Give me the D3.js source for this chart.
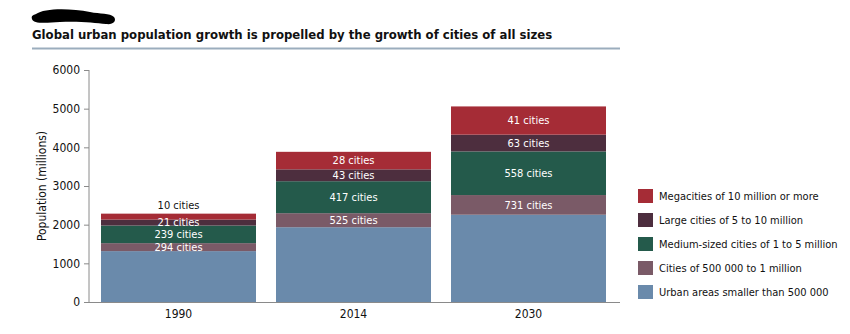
<!DOCTYPE html>
<html>
<head>
<meta charset="utf-8">
<script src="https://cdn.jsdelivr.net/npm/d3@7"></script>
<style>
	body { margin: 0; background: #fff; }
	svg text { font-family: "DejaVu Sans Condensed", "DejaVu Sans", sans-serif; }
</style>
</head>
<body>
<div id="chart"></div>
<script>
const years = ['1990', '2014', '2030'];

const sizeClasses = [
	'Urban areas smaller than 500 000',
	'Cities of 500 000 to 1 million',
	'Medium-sized cities of 1 to 5 million',
	'Large cities of 5 to 10 million',
	'Megacities of 10 million or more'
];

// population in millions, one value per year
const smallUrban = [1316, 1934, 2257];
const halfMillion = [206, 363, 509];
const mediumCities = [455, 827, 1128];
const largeCities = [155, 307, 434];
const megaCities = [153, 453, 730];

// number of cities, one value per year
const halfMillionCount = [294, 525, 731];
const mediumCount = [239, 417, 558];
const largeCount = [21, 43, 63];
const megaCount = [10, 28, 41];

const yTicks = [0, 1000, 2000, 3000, 4000, 5000, 6000];

const colors = ['#6a8aab', '#7a5a67', '#245a4b', '#4d2e3e', '#a52c36'];

const width = 850;
const height = 334;
const margin = {top: 70, right: 232, bottom: 32, left: 89};

const seriesValues = [smallUrban, halfMillion, mediumCities, largeCities, megaCities];
const seriesCounts = [null, halfMillionCount, mediumCount, largeCount, megaCount];

const rows = years.map((y, i) => {
	let row = {year: y};
	sizeClasses.forEach((c, k) => { row[c] = seriesValues[k][i]; });
	return row;
});

const stacked = d3.stack().keys(sizeClasses)(rows);

const svg = d3.select('#chart').append('svg')
	.attr('width', width)
	.attr('height', height);

// blacked-out header mark
svg.append('path')
	.attr('d', 'M36,14 C44,8 70,8 90,12 C100,14 110,13 114,17 C117,21 113,25 106,24 C95,23 80,21 60,22 C46,23 33,24 32,19 C31,16 33,15 36,14 Z')
	.attr('fill', '#000');

svg.append('text')
	.attr('x', 32)
	.attr('y', 39)
	.attr('font-size', 13)
	.attr('font-weight', 'bold')
	.attr('fill', '#111')
	.text('Global urban population growth is propelled by the growth of cities of all sizes');

svg.append('line')
	.attr('x1', 32).attr('x2', 620)
	.attr('y1', 48.5).attr('y2', 48.5)
	.attr('stroke', '#9badbd')
	.attr('stroke-width', 2);

const xScale = d3.scaleBand()
	.domain(years)
	.range([margin.left, 618])
	.paddingInner(20 / 175)
	.paddingOuter(0.0686);

const yScale = d3.scaleLinear()
	.domain([0, 6000])
	.range([height - margin.bottom, margin.top]);

const layers = svg.selectAll('g.layer')
	.data(stacked)
	.enter().append('g')
	.attr('class', 'layer')
	.attr('fill', (d, i) => colors[i]);

layers.selectAll('rect')
	.data(d => d)
	.enter().append('rect')
	.attr('x', d => xScale(d.data.year))
	.attr('width', xScale.bandwidth())
	.attr('y', d => yScale(d[1]))
	.attr('height', d => yScale(d[0]) - yScale(d[1]));

// city count labels, white inside the segment, dark above the bar when it's too thin
stacked.forEach((layer, k) => {
	if (!seriesCounts[k]) return;
	layer.forEach((d, i) => {
		const h = yScale(d[0]) - yScale(d[1]);
		const isTop = k === stacked.length - 1;
		const outside = isTop && h < 10;
		svg.append('text')
			.attr('x', xScale(d.data.year) + xScale.bandwidth() / 2)
			.attr('y', outside ? yScale(d[1]) - 8 : (yScale(d[0]) + yScale(d[1])) / 2)
			.attr('dy', '0.35em')
			.attr('text-anchor', 'middle')
			.attr('font-size', 11)
			.attr('fill', outside ? '#111' : '#fff')
			.text(seriesCounts[k][i] + ' cities');
	});
});

const yAxis = d3.axisLeft(yScale)
	.tickValues(yTicks)
	.tickFormat(d3.format('d'))
	.tickSize(5)
	.tickPadding(4);

const gy = svg.append('g')
	.attr('transform', `translate(${margin.left},0)`)
	.call(yAxis);
gy.select('.domain').attr('stroke', '#8a8a8a').attr('d', `M0,${yScale(6000)}V${yScale(0)}`);
gy.selectAll('.tick line').attr('stroke', '#8a8a8a');
gy.selectAll('.tick text').attr('font-size', 12).attr('fill', '#111')
	.style('font-family', '"DejaVu Sans Condensed", sans-serif');

svg.append('line')
	.attr('x1', margin.left - 5).attr('x2', 620)
	.attr('y1', yScale(0) + 0.5).attr('y2', yScale(0) + 0.5)
	.attr('stroke', '#8a8a8a');

const xAxis = d3.axisBottom(xScale).tickSize(0).tickPadding(7);
const gx = svg.append('g')
	.attr('transform', `translate(0,${yScale(0)})`)
	.call(xAxis);
gx.select('.domain').remove();
gx.selectAll('.tick text').attr('font-size', 12).attr('fill', '#111')
	.style('font-family', '"DejaVu Sans Condensed", sans-serif');

svg.append('text')
	.attr('transform', `translate(46,${(yScale(0) + yScale(6000)) / 2}) rotate(-90)`)
	.attr('text-anchor', 'middle')
	.attr('font-size', 12)
	.attr('fill', '#111')
	.text('Population (millions)');

// legend, largest class first
const legendOrder = sizeClasses.map((c, i) => ({name: c, color: colors[i]})).reverse();
const legend = svg.selectAll('g.legend')
	.data(legendOrder)
	.enter().append('g')
	.attr('class', 'legend')
	.attr('transform', (d, i) => `translate(638,${189 + i * 24})`);

legend.append('rect')
	.attr('width', 15)
	.attr('height', 14)
	.attr('fill', d => d.color);

legend.append('text')
	.attr('x', 21)
	.attr('y', 7)
	.attr('dy', '0.35em')
	.attr('font-size', 11)
	.attr('fill', '#111')
	.text(d => d.name);
</script>
</body>
</html>
